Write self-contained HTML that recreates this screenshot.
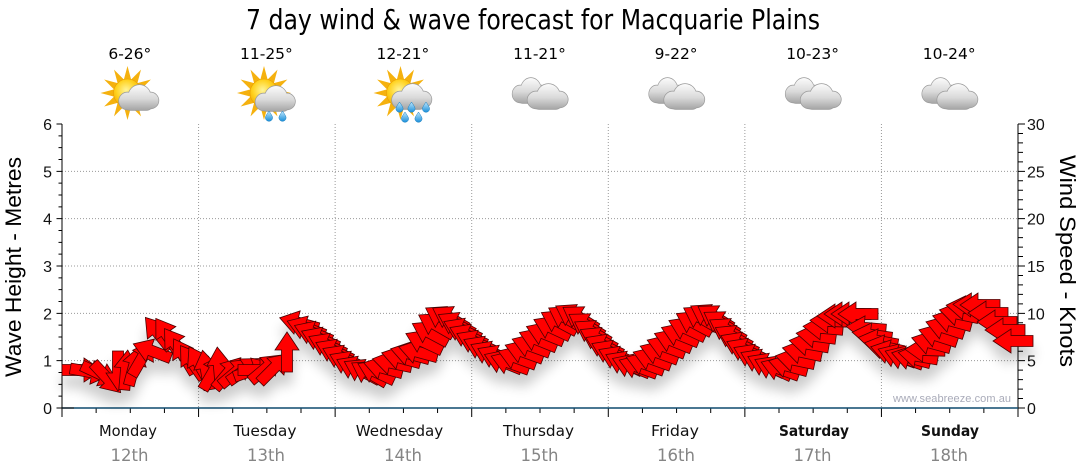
<!DOCTYPE html>
<html><head><meta charset="utf-8"><style>
html,body{margin:0;padding:0;background:#fff;}
svg{display:block;}
</style></head><body>
<svg width="1080" height="475" viewBox="0 0 1080 475" xmlns="http://www.w3.org/2000/svg">
<defs>
<linearGradient id="cg" gradientUnits="userSpaceOnUse" x1="0" y1="0" x2="0" y2="25">
<stop offset="0" stop-color="#fbfbfb"/><stop offset="0.55" stop-color="#d9d9d9"/><stop offset="1" stop-color="#a6a6a6"/>
</linearGradient>
<radialGradient id="sg" cx="0.45" cy="0.4" r="0.6">
<stop offset="0" stop-color="#fff59a"/><stop offset="0.6" stop-color="#ffd21f"/><stop offset="1" stop-color="#f2a900"/>
</radialGradient>
<linearGradient id="dg" x1="0" y1="0" x2="0" y2="1">
<stop offset="0" stop-color="#bfe8ff"/><stop offset="1" stop-color="#1b8fd8"/>
</linearGradient>
<g id="cloud">
<g fill="#9a9a9a" stroke="#9a9a9a" stroke-width="1.4">
<circle cx="9" cy="16" r="8.5"/><circle cx="21" cy="11" r="11"/><circle cx="32" cy="15.5" r="8"/><rect x="6" y="13" width="28" height="12" rx="6"/>
</g>
<g fill="url(#cg)">
<circle cx="9" cy="16" r="8.5"/><circle cx="21" cy="11" r="11"/><circle cx="32" cy="15.5" r="8"/><rect x="6" y="13" width="28" height="12" rx="6"/>
</g>
</g>
<g id="sun">
<polygon fill="#f5b10e" points="0,-27 3.62,-13.52 13.5,-23.38 9.9,-9.9 23.38,-13.5 13.52,-3.62 27,0 13.52,3.62 23.38,13.5 9.9,9.9 13.5,23.38 3.62,13.52 0,27 -3.62,13.52 -13.5,23.38 -9.9,9.9 -23.38,13.5 -13.52,3.62 -27,0 -13.52,-3.62 -23.38,-13.5 -9.9,-9.9 -13.5,-23.38 -3.62,-13.52"/>
<circle r="14" fill="url(#sg)" stroke="#e8a000" stroke-width="0.6"/>
</g>
<path id="drop" d="M0,-4.5 C2,-1.5 3.6,0.8 3.6,2.2 A3.6,3.6 0 0 1 -3.6,2.2 C-3.6,0.8 -2,-1.5 0,-4.5Z" fill="url(#dg)" stroke="#1a7fc0" stroke-width="0.5"/>
<polygon id="ar" points="-20,-5.5 2,-5.5 2,-12 20,0 2,12 2,5.5 -20,5.5" fill="#ff0000" stroke="#4a0000" stroke-width="0.8"/>
<filter id="sh" x="-10%" y="-60%" width="120%" height="260%">
<feGaussianBlur in="SourceAlpha" stdDeviation="6"/>
<feOffset dy="12"/>
<feComponentTransfer><feFuncA type="linear" slope="0.2"/></feComponentTransfer>
<feMerge><feMergeNode/><feMergeNode in="SourceGraphic"/></feMerge>
</filter>
</defs>

<text x="533" y="29" text-anchor="middle" font-family="DejaVu Sans, sans-serif" font-size="27.5" fill="#000" textLength="574" lengthAdjust="spacingAndGlyphs">7 day wind &amp; wave forecast for Macquarie Plains</text>

<g font-family="DejaVu Sans, sans-serif" font-size="15.5" fill="#000" text-anchor="middle">
<text x="129.8" y="59">6-26°</text><text x="266.4" y="59">11-25°</text><text x="402.9" y="59">12-21°</text><text x="539.5" y="59">11-21°</text><text x="676.1" y="59">9-22°</text><text x="812.6" y="59">10-23°</text><text x="949.2" y="59">10-24°</text>
</g>

<use href="#sun" transform="translate(127.5,93)"/><use href="#cloud" transform="translate(118.5,85)"/>
<use href="#sun" transform="translate(264,93)"/><use href="#cloud" transform="translate(255,86)"/>
<use href="#drop" transform="translate(269,115.5)"/><use href="#drop" transform="translate(282.5,115.5)"/>
<use href="#sun" transform="translate(400.5,93)"/><use href="#cloud" transform="translate(391.5,84)"/>
<use href="#drop" transform="translate(399.5,106.5)"/><use href="#drop" transform="translate(411.5,106.5)"/><use href="#drop" transform="translate(426,106.5)"/><use href="#drop" transform="translate(405,116.5)"/><use href="#drop" transform="translate(418.5,116.5)"/>
<use href="#cloud" transform="translate(512,78) scale(0.9,1)"/><use href="#cloud" transform="translate(527,84) scale(1.02,1)"/>
<use href="#cloud" transform="translate(648.6,78) scale(0.9,1)"/><use href="#cloud" transform="translate(663.6,84) scale(1.02,1)"/>
<use href="#cloud" transform="translate(785.1,78) scale(0.9,1)"/><use href="#cloud" transform="translate(800.1,84) scale(1.02,1)"/>
<use href="#cloud" transform="translate(921.7,78) scale(0.9,1)"/><use href="#cloud" transform="translate(936.7,84) scale(1.02,1)"/>

<path fill="none" stroke="#9a9a9a" stroke-width="1" stroke-dasharray="1,2" d="M62,360.67H1018M62,313.33H1018M62,266H1018M62,218.67H1018M62,171.33H1018M198.57,124V408M335.14,124V408M471.71,124V408M608.29,124V408M744.86,124V408M881.43,124V408"/>

<g stroke="#000" stroke-width="1" fill="none">
<path d="M62,124V408.5M1018,124V408.5"/>
<path d="M56.5,408H62M56.5,360.67H62M56.5,313.33H62M56.5,266H62M56.5,218.67H62M56.5,171.33H62M56.5,124H62"/>
<path d="M58.5,396.17H62M58.5,384.33H62M58.5,372.5H62M58.5,348.83H62M58.5,337H62M58.5,325.17H62M58.5,301.5H62M58.5,289.67H62M58.5,277.83H62M58.5,254.17H62M58.5,242.33H62M58.5,230.5H62M58.5,206.83H62M58.5,195H62M58.5,183.17H62M58.5,159.5H62M58.5,147.67H62M58.5,135.83H62"/>
<path d="M1018,408H1025M1018,360.67H1025M1018,313.33H1025M1018,266H1025M1018,218.67H1025M1018,171.33H1025M1018,124H1025"/>
<path d="M1018,398.53H1023M1018,389.07H1023M1018,379.6H1023M1018,370.13H1023M1018,351.2H1023M1018,341.73H1023M1018,332.27H1023M1018,322.8H1023M1018,303.87H1023M1018,294.4H1023M1018,284.93H1023M1018,275.47H1023M1018,256.53H1023M1018,247.07H1023M1018,237.6H1023M1018,228.13H1023M1018,209.2H1023M1018,199.73H1023M1018,190.27H1023M1018,180.8H1023M1018,161.87H1023M1018,152.4H1023M1018,142.93H1023M1018,133.47H1023"/>
<path d="M62,408V417M198.57,408V417M335.14,408V417M471.71,408V417M608.29,408V417M744.86,408V417M881.43,408V417M1018,408V417"/>
<path d="M96.14,408V413M130.29,408V413M164.43,408V413M232.71,408V413M266.86,408V413M301,408V413M369.29,408V413M403.43,408V413M437.57,408V413M505.86,408V413M540,408V413M574.14,408V413M642.43,408V413M676.57,408V413M710.71,408V413M779,408V413M813.14,408V413M847.29,408V413M915.57,408V413M949.71,408V413M983.86,408V413"/>
</g>
<line x1="62" y1="408" x2="1018" y2="408" stroke="#0f4a6e" stroke-width="1.5"/>
<line x1="56.5" y1="408" x2="74" y2="408" stroke="#000" stroke-width="1"/>

<g font-family="Liberation Sans, Arial, sans-serif" font-size="16" fill="#111">
<g text-anchor="end"><text x="52" y="414">0</text><text x="52" y="366.7">1</text><text x="52" y="319.3">2</text><text x="52" y="272">3</text><text x="52" y="224.7">4</text><text x="52" y="177.3">5</text><text x="52" y="130">6</text></g>
<g text-anchor="start"><text x="1027" y="414">0</text><text x="1027" y="366.7">5</text><text x="1027" y="319.3">10</text><text x="1027" y="272">15</text><text x="1027" y="224.7">20</text><text x="1027" y="177.3">25</text><text x="1027" y="130">30</text></g>
</g>

<text transform="translate(21,267) rotate(-90)" text-anchor="middle" font-family="Liberation Sans, Arial, sans-serif" font-size="22.5" fill="#000" textLength="220" lengthAdjust="spacingAndGlyphs">Wave Height - Metres</text>
<text transform="translate(1060,261) rotate(90)" text-anchor="middle" font-family="Liberation Sans, Arial, sans-serif" font-size="22.5" fill="#000" textLength="212" lengthAdjust="spacingAndGlyphs">Wind Speed - Knots</text>

<text x="893" y="402" font-family="Liberation Sans, Arial, sans-serif" font-size="11" fill="#a9abb9" textLength="118">www.seabreeze.com.au</text>

<g font-family="DejaVu Sans, sans-serif" font-size="15" fill="#111" text-anchor="middle" lengthAdjust="spacingAndGlyphs">
<text x="128" y="436" textLength="58" lengthAdjust="spacingAndGlyphs">Monday</text><text x="265" y="436" textLength="63" lengthAdjust="spacingAndGlyphs">Tuesday</text><text x="399.5" y="436" textLength="87.5" lengthAdjust="spacingAndGlyphs">Wednesday</text><text x="538.5" y="436" textLength="71" lengthAdjust="spacingAndGlyphs">Thursday</text><text x="675" y="436" textLength="48" lengthAdjust="spacingAndGlyphs">Friday</text><text x="814" y="436" font-weight="bold" textLength="70" lengthAdjust="spacingAndGlyphs">Saturday</text><text x="950" y="436" font-weight="bold" textLength="58" lengthAdjust="spacingAndGlyphs">Sunday</text>
</g>
<g font-family="DejaVu Sans, sans-serif" font-size="17" fill="#858585" text-anchor="middle">
<text x="129.5" y="461" textLength="38" lengthAdjust="spacingAndGlyphs">12th</text><text x="266" y="461" textLength="38" lengthAdjust="spacingAndGlyphs">13th</text><text x="403" y="461" textLength="38" lengthAdjust="spacingAndGlyphs">14th</text><text x="539.5" y="461" textLength="38" lengthAdjust="spacingAndGlyphs">15th</text><text x="676" y="461" textLength="38" lengthAdjust="spacingAndGlyphs">16th</text><text x="812.5" y="461" textLength="38" lengthAdjust="spacingAndGlyphs">17th</text><text x="949" y="461" textLength="38" lengthAdjust="spacingAndGlyphs">18th</text>
</g>

<g filter="url(#sh)">
<use href="#ar" transform="translate(82,370)"/><use href="#ar" transform="translate(90,372) rotate(10)"/><use href="#ar" transform="translate(100,374) rotate(25)"/><use href="#ar" transform="translate(107,378) rotate(47)"/><use href="#ar" transform="translate(118,371) rotate(90)"/><use href="#ar" transform="translate(126,370) rotate(-85)"/><use href="#ar" transform="translate(134,366) rotate(-75)"/>
<use href="#ar" transform="translate(142,358) rotate(-60)"/><use href="#ar" transform="translate(152,351) rotate(-159)"/><use href="#ar" transform="translate(158,333) rotate(-129)"/><use href="#ar" transform="translate(167,335) rotate(-124)"/><use href="#ar" transform="translate(176,345) rotate(-125)"/><use href="#ar" transform="translate(184,356) rotate(-121)"/><use href="#ar" transform="translate(192,362) rotate(-125)"/>
<use href="#ar" transform="translate(199,364) rotate(-120)"/><use href="#ar" transform="translate(206,370) rotate(-100)"/><use href="#ar" transform="translate(213,372) rotate(-60)"/><use href="#ar" transform="translate(219,367) rotate(-95)"/><use href="#ar" transform="translate(228,373) rotate(-50)"/><use href="#ar" transform="translate(236,372) rotate(-40)"/><use href="#ar" transform="translate(245,370) rotate(-35)"/>
<use href="#ar" transform="translate(253,370) rotate(-20)"/><use href="#ar" transform="translate(258,370)"/><use href="#ar" transform="translate(266,368) rotate(-40)"/><use href="#ar" transform="translate(274,368) rotate(-45)"/><use href="#ar" transform="translate(287,352) rotate(-90)"/><use href="#ar" transform="translate(299,323) rotate(-165)"/><use href="#ar" transform="translate(306,328) rotate(-160)"/>
<use href="#ar" transform="translate(313,333) rotate(-158)"/><use href="#ar" transform="translate(320,339) rotate(-157)"/><use href="#ar" transform="translate(327,345) rotate(-155)"/><use href="#ar" transform="translate(334,351) rotate(-155)"/><use href="#ar" transform="translate(341,357) rotate(-155)"/><use href="#ar" transform="translate(348,363) rotate(-155)"/><use href="#ar" transform="translate(355,368) rotate(-155)"/>
<use href="#ar" transform="translate(362,371) rotate(-152)"/><use href="#ar" transform="translate(369,373) rotate(-150)"/><use href="#ar" transform="translate(376,372) rotate(-155)"/><use href="#ar" transform="translate(383,368) rotate(-165)"/><use href="#ar" transform="translate(392,363) rotate(-168)"/><use href="#ar" transform="translate(401,358) rotate(-165)"/><use href="#ar" transform="translate(410,354) rotate(-165)"/>
<use href="#ar" transform="translate(418,352) rotate(-165)"/><use href="#ar" transform="translate(424,342) rotate(-155)"/><use href="#ar" transform="translate(430,333) rotate(-152)"/><use href="#ar" transform="translate(436,325) rotate(-150)"/><use href="#ar" transform="translate(443,318) rotate(-150)"/><use href="#ar" transform="translate(450,318) rotate(-150)"/><use href="#ar" transform="translate(456,324) rotate(-152)"/>
<use href="#ar" transform="translate(462,330) rotate(-155)"/><use href="#ar" transform="translate(468,336) rotate(-155)"/><use href="#ar" transform="translate(475,342) rotate(-155)"/><use href="#ar" transform="translate(482,348) rotate(-155)"/><use href="#ar" transform="translate(489,353) rotate(-155)"/><use href="#ar" transform="translate(496,357) rotate(-155)"/><use href="#ar" transform="translate(503,362) rotate(-158)"/>
<use href="#ar" transform="translate(510,363) rotate(-160)"/><use href="#ar" transform="translate(517,358) rotate(-160)"/><use href="#ar" transform="translate(524,352) rotate(-160)"/><use href="#ar" transform="translate(531,346) rotate(-160)"/><use href="#ar" transform="translate(538,340) rotate(-158)"/><use href="#ar" transform="translate(545,334) rotate(-158)"/><use href="#ar" transform="translate(552,328) rotate(-155)"/>
<use href="#ar" transform="translate(559,322) rotate(-152)"/><use href="#ar" transform="translate(566,318) rotate(-150)"/><use href="#ar" transform="translate(573,316) rotate(-150)"/><use href="#ar" transform="translate(580,318) rotate(-148)"/><use href="#ar" transform="translate(586,325) rotate(-148)"/><use href="#ar" transform="translate(592,332) rotate(-150)"/><use href="#ar" transform="translate(598,339) rotate(-152)"/>
<use href="#ar" transform="translate(604,346) rotate(-155)"/><use href="#ar" transform="translate(610,352) rotate(-155)"/><use href="#ar" transform="translate(617,358) rotate(-155)"/><use href="#ar" transform="translate(624,363) rotate(-155)"/><use href="#ar" transform="translate(631,366) rotate(-158)"/><use href="#ar" transform="translate(638,367) rotate(-160)"/><use href="#ar" transform="translate(645,364) rotate(-160)"/>
<use href="#ar" transform="translate(652,359) rotate(-160)"/><use href="#ar" transform="translate(659,353) rotate(-160)"/><use href="#ar" transform="translate(666,347) rotate(-160)"/><use href="#ar" transform="translate(673,341) rotate(-158)"/><use href="#ar" transform="translate(680,335) rotate(-158)"/><use href="#ar" transform="translate(687,329) rotate(-155)"/><use href="#ar" transform="translate(694,323) rotate(-152)"/>
<use href="#ar" transform="translate(701,318) rotate(-150)"/><use href="#ar" transform="translate(708,316) rotate(-150)"/><use href="#ar" transform="translate(715,317) rotate(-148)"/><use href="#ar" transform="translate(721,323) rotate(-148)"/><use href="#ar" transform="translate(727,330) rotate(-150)"/><use href="#ar" transform="translate(733,337) rotate(-152)"/><use href="#ar" transform="translate(739,344) rotate(-155)"/>
<use href="#ar" transform="translate(745,350) rotate(-155)"/><use href="#ar" transform="translate(752,356) rotate(-155)"/><use href="#ar" transform="translate(759,361) rotate(-155)"/><use href="#ar" transform="translate(766,365) rotate(-155)"/><use href="#ar" transform="translate(773,368) rotate(-155)"/><use href="#ar" transform="translate(780,369) rotate(-160)"/><use href="#ar" transform="translate(788,366) rotate(-165)"/>
<use href="#ar" transform="translate(795,360) rotate(-168)"/><use href="#ar" transform="translate(802,352) rotate(-168)"/><use href="#ar" transform="translate(809,344) rotate(-170)"/><use href="#ar" transform="translate(816,336) rotate(-172)"/><use href="#ar" transform="translate(823,328) rotate(-175)"/><use href="#ar" transform="translate(830,321) rotate(-178)"/><use href="#ar" transform="translate(837,316) rotate(180)"/>
<use href="#ar" transform="translate(844,314) rotate(180)"/><use href="#ar" transform="translate(851,314) rotate(180)"/><use href="#ar" transform="translate(858,314) rotate(180)"/><use href="#ar" transform="translate(866,328) rotate(-175)"/><use href="#ar" transform="translate(872,335) rotate(-172)"/><use href="#ar" transform="translate(878,341) rotate(-170)"/><use href="#ar" transform="translate(884,347) rotate(-168)"/>
<use href="#ar" transform="translate(890,352) rotate(-165)"/><use href="#ar" transform="translate(897,356) rotate(-160)"/><use href="#ar" transform="translate(904,358) rotate(-160)"/><use href="#ar" transform="translate(911,358) rotate(-165)"/><use href="#ar" transform="translate(918,356) rotate(-170)"/><use href="#ar" transform="translate(925,350) rotate(-178)"/><use href="#ar" transform="translate(931,343) rotate(-165)"/>
<use href="#ar" transform="translate(938,336) rotate(-162)"/><use href="#ar" transform="translate(945,328) rotate(-162)"/><use href="#ar" transform="translate(952,321) rotate(-165)"/><use href="#ar" transform="translate(959,314) rotate(-168)"/><use href="#ar" transform="translate(966,308) rotate(-172)"/><use href="#ar" transform="translate(973,305) rotate(-178)"/><use href="#ar" transform="translate(980,305) rotate(180)"/>
<use href="#ar" transform="translate(988,313) rotate(180)"/><use href="#ar" transform="translate(997,322) rotate(180)"/><use href="#ar" transform="translate(1005,330) rotate(180)"/><use href="#ar" transform="translate(1013,341) rotate(180)"/>
</g>
</svg>
</body></html>
